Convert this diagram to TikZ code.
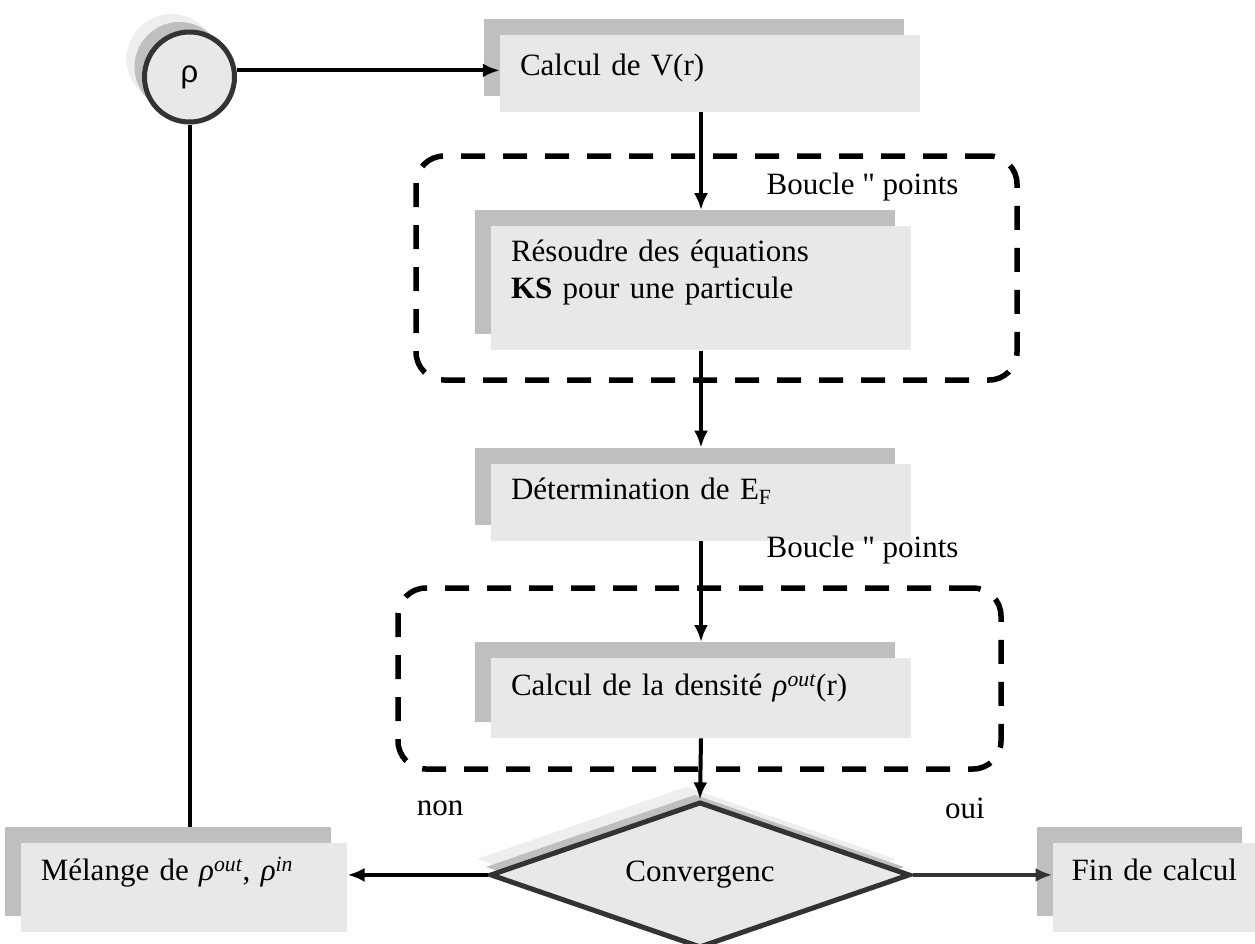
\documentclass[tikz,border=0pt]{standalone}
\usepackage{fontspec}
\setmainfont{Liberation Serif}
\newfontfamily\rhofont{Liberation Sans}
\usepackage{tikz}
\usetikzlibrary{positioning,shapes.geometric,shadows,arrows.meta}
\definecolor{fond}{HTML}{E8E8E8}
\definecolor{ombre}{HTML}{BFBFBF}
\definecolor{ombreclaire}{HTML}{EEEEEE}
\definecolor{bord}{HTML}{333333}
\newcommand{\rhoexp}[1]{\textit{ρ}\textsuperscript{\textit{#1}}}
\tikzset{
    >={Latex[length=17pt,width=14pt]},
    etape/.style={
        rectangle,
        fill=fond,
        general shadow={fill=ombre, shadow xshift=-16pt, shadow yshift=16pt},
        minimum width=420pt,
        minimum height=77pt,
        text width=380pt,
        inner xsep=20pt,
        align=left,
        text height=22pt,
        text depth=28pt
    },
    boucle/.style={
        rectangle,
        draw=black,
        line width=5.5pt,
        dash pattern=on 24pt off 18pt,
        rounded corners=28pt,
        inner sep=0pt
    },
    fleche/.style={->, line width=4pt},
    trait/.style={line width=4pt},
}

\begin{document}
\begin{tikzpicture}[x=1pt, y=-1pt, font=\fontsize{31}{37}\selectfont]
        \useasboundingbox (0,0) rectangle (1255,943);

        % Setup the style for the test and the density
        \tikzset{cercle/.style={circle,
                                draw=bord, line width=5pt,
                                fill=fond,
                                minimum size=90pt, inner sep=0pt,
                                font=\rhofont\fontsize{31}{37}\selectfont,
                                general shadow={fill=ombreclaire, shadow xshift=-18pt, shadow yshift=18pt},
                                general shadow={fill=ombre, shadow xshift=-10pt, shadow yshift=10pt}},
                 test/.style={diamond, aspect=2.88,
                              draw=bord, line width=5pt,
                              fill=fond,
                              minimum width=420pt, minimum height=146pt, inner sep=0pt,
                              general shadow={fill=ombreclaire, shadow xshift=-14pt, shadow yshift=16pt},
                              general shadow={fill=ombre, shadow xshift=-5pt, shadow yshift=8pt}}}

        % Dashed loops
        \node[boucle, minimum width=601pt, minimum height=224pt] (b1) at (716.5,268) {};
        \node[boucle, minimum width=603pt, minimum height=181pt] (b2) at (699.5,678.5) {};

        \node[cercle]                                (rho)  at (189.5,77) {ρ};
        \node[etape, text depth=19pt]                (vr)   at (710,73.5) {Calcul de V(r)};
        \node[etape, minimum height=124pt, text depth=76pt,
              below=114pt of vr, xshift=-9pt]        (ks)   {Résoudre des équations\\\textbf{KS} pour une particule};
        \node[etape, below=113pt of ks]              (ef)   {Détermination de E\textsubscript{F}};
        \node[etape, minimum height=80pt,
              below=117pt of ef]                     (dens) {Calcul de la densité \rhoexp{out}(r)};
        \node[test, below=61pt of dens, xshift=-1pt] (conv) {Convergenc};
        \node[etape, minimum width=326pt, minimum height=89pt, text width=287pt,
              text depth=36pt, inner xsep=19.5pt,
              left=140pt of conv, yshift=-12.5pt]    (mel)  {Mélange de \rhoexp{out}, \rhoexp{in}};
        \node[etape, minimum width=205pt, minimum height=89pt, text width=167pt,
              text depth=36pt, inner xsep=19pt,
              right=140pt of conv, yshift=-12.5pt]   (fin)  {Fin de calcul};

        \node[anchor=east] (l1) at (962,187) {Boucle \textquotedbl{} points};
        \node[anchor=east] (l2) at (962,550) {Boucle \textquotedbl{} points};
        \node (non) at (440,808) {non};
        \node (oui) at (965,808) {oui};

        \draw[fleche] (rho.8) -- (rho.8 -| vr.west);
        \draw[trait] (rho.south) -- ([yshift=16pt]rho.south |- mel.north);
        \draw[fleche, shorten >=16pt] (vr.south -| ks.north) -- (ks.north);
        \draw[fleche, shorten >=16pt] (ks.south) -- (ef.north);
        \draw[fleche, shorten >=16pt] (ef.south) -- (dens.north);
        \draw[fleche] (dens.south) -- (conv.north);
        \draw[fleche] (conv.west) -- (conv.west -| mel.east);
        \draw[fleche, bord] (conv.east) -- (conv.east -| fin.west);
\end{tikzpicture}
\end{document}
